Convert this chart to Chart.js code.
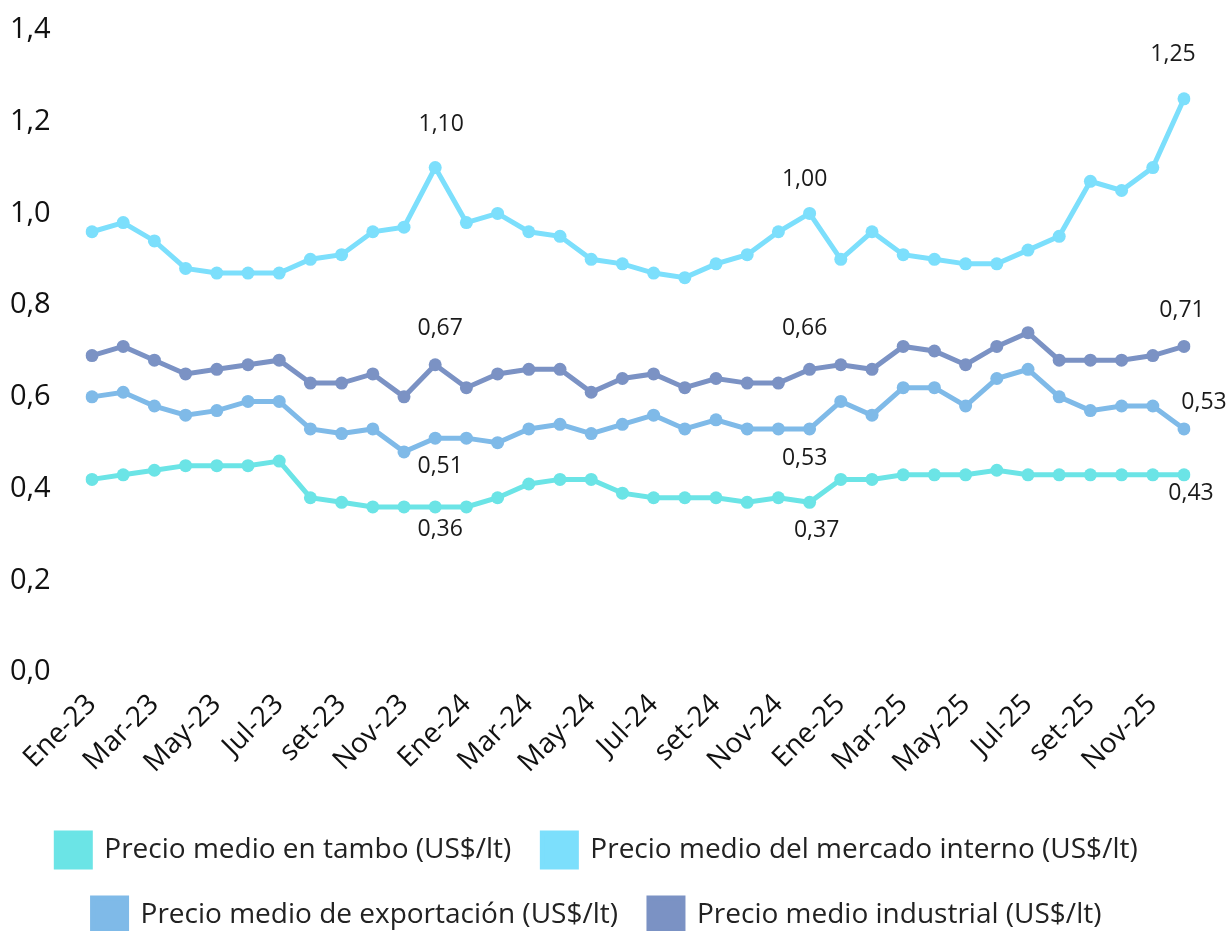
<!DOCTYPE html>
<html>
<head>
<meta charset="utf-8">
<script src="https://cdn.jsdelivr.net/npm/chart.js@4.4.1/dist/chart.umd.min.js"></script>
<style>
  body { margin: 0; background: #fff; }
  #wrap { width: 1230px; height: 931px; }
</style>
</head>
<body>
<div id="wrap"><canvas id="grafico" width="1230" height="931"></canvas></div>
<script>
// meses (etiqueta del eje X)
const meses = [
  "Ene-23", "Feb-23", "Mar-23", "Abr-23", "May-23", "Jun-23", "Jul-23", "Ago-23", "set-23", "Oct-23", "Nov-23", "Dic-23",
  "Ene-24", "Feb-24", "Mar-24", "Abr-24", "May-24", "Jun-24", "Jul-24", "Ago-24", "set-24", "Oct-24", "Nov-24", "Dic-24",
  "Ene-25", "Feb-25", "Mar-25", "Abr-25", "May-25", "Jun-25", "Jul-25", "Ago-25", "set-25", "Oct-25", "Nov-25", "Dic-25"
];

const tambo = [
  0.42, 0.43, 0.44, 0.45, 0.45, 0.45, 0.46, 0.38, 0.37, 0.36, 0.36, 0.36,
  0.36, 0.38, 0.41, 0.42, 0.42, 0.39, 0.38, 0.38, 0.38, 0.37, 0.38, 0.37,
  0.42, 0.42, 0.43, 0.43, 0.43, 0.44, 0.43, 0.43, 0.43, 0.43, 0.43, 0.43
];
const mercadoInterno = [
  0.96, 0.98, 0.94, 0.88, 0.87, 0.87, 0.87, 0.90, 0.91, 0.96, 0.97, 1.10,
  0.98, 1.00, 0.96, 0.95, 0.90, 0.89, 0.87, 0.86, 0.89, 0.91, 0.96, 1.00,
  0.90, 0.96, 0.91, 0.90, 0.89, 0.89, 0.92, 0.95, 1.07, 1.05, 1.10, 1.25
];
const exportacion = [
  0.60, 0.61, 0.58, 0.56, 0.57, 0.59, 0.59, 0.53, 0.52, 0.53, 0.48, 0.51,
  0.51, 0.50, 0.53, 0.54, 0.52, 0.54, 0.56, 0.53, 0.55, 0.53, 0.53, 0.53,
  0.59, 0.56, 0.62, 0.62, 0.58, 0.64, 0.66, 0.60, 0.57, 0.58, 0.58, 0.53
];
const industrial = [
  0.69, 0.71, 0.68, 0.65, 0.66, 0.67, 0.68, 0.63, 0.63, 0.65, 0.60, 0.67,
  0.62, 0.65, 0.66, 0.66, 0.61, 0.64, 0.65, 0.62, 0.64, 0.63, 0.63, 0.66,
  0.67, 0.66, 0.71, 0.70, 0.67, 0.71, 0.74, 0.68, 0.68, 0.68, 0.69, 0.71
];

// puntos con etiqueta (diciembre de cada año)
const puntosEtiqueta = [11, 23, 35];

const fuente = "'Open Sans', 'Noto Sans', sans-serif";

// desplazamiento de las etiquetas [dx, dy] por serie
const desplazamientos = [
  [[5, 23], [7, 28], [7, 19]],
  [[6, -43], [-5, -34], [-11, -44]],
  [[5, 28], [-5, 29], [20, -27]],
  [[5, -36], [-5, -41], [-2, -36]]
];

const formato = v => v.toFixed(2).replace(".", ",");

const etiquetasPlugin = {
  id: "etiquetas",
  afterDatasetsDraw(chart) {
    const ctx = chart.ctx;
    ctx.save();
    ctx.font = "23px " + fuente;
    ctx.fillStyle = "#1a1a1a";
    ctx.textAlign = "center";
    ctx.textBaseline = "middle";
    chart.data.datasets.forEach((ds, d) => {
      const meta = chart.getDatasetMeta(d);
      puntosEtiqueta.forEach((idx, k) => {
        const p = meta.data[idx];
        const [dx, dy] = desplazamientos[d][k];
        ctx.fillText(formato(ds.data[idx]), p.x + dx, p.y + dy);
      });
    });
    ctx.restore();
  }
};

function serie(label, data, color) {
  return {
    label: label,
    data: data,
    borderColor: color,
    backgroundColor: color,
    borderWidth: 5,
    pointRadius: 6.5,
    pointBorderWidth: 0,
    pointBackgroundColor: color,
    tension: 0
  };
}

new Chart(document.getElementById("grafico"), {
  type: "line",
  data: {
    labels: meses,
    datasets: [
      serie("Precio medio en tambo (US$/lt)", tambo, "#6be4e6"),
      serie("Precio medio del mercado interno (US$/lt)", mercadoInterno, "#7cdffc"),
      serie("Precio medio de exportación (US$/lt)", exportacion, "#7fbae8"),
      serie("Precio medio industrial (US$/lt)", industrial, "#7b92c4")
    ]
  },
  options: {
    responsive: false,
    animation: false,
    layout: { padding: { left: 10, right: 46, top: 30, bottom: -11 } },
    scales: {
      x: {
        grid: { display: false },
        border: { display: false },
        afterFit: scale => { scale.height = 130; },
        ticks: {
          autoSkip: false,
          minRotation: 45,
          maxRotation: 45,
          padding: 8,
          color: "#111",
          font: { family: fuente, size: 28 },
          callback: (v, i) => (i % 2 === 0 ? meses[i] : null)
        }
      },
      y: {
        min: 0,
        max: 1.4,
        grid: { display: false },
        border: { display: false },
        afterFit: scale => { scale.width = 82; },
        ticks: {
          stepSize: 0.2,
          crossAlign: "far",
          color: "#111",
          font: { family: fuente, size: 29 },
          callback: v => v.toFixed(1).replace(".", ",")
        }
      }
    },
    plugins: {
      tooltip: { enabled: false },
      legend: {
        position: "bottom",
        labels: {
          boxWidth: 34,
          boxHeight: 34,
          padding: 31,
          color: "#222",
          font: { family: fuente, size: 28 }
        }
      }
    }
  },
  plugins: [etiquetasPlugin]
});
</script>
</body>
</html>
